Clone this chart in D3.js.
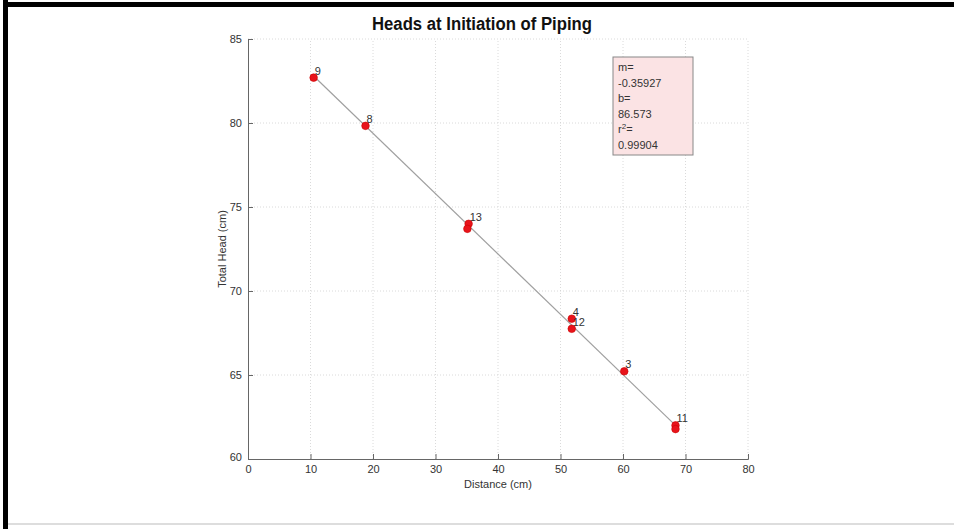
<!DOCTYPE html>
<html>
<head>
<meta charset="utf-8">
<script src="https://cdn.jsdelivr.net/npm/d3@7"></script>
<style>
  body { margin: 0; background: #fff; }
  svg { display: block; }
</style>
</head>
<body>
<div id="chart"></div>
<script>
// Chart size
var width = 954;
var height = 529;

// Data
var distance = [10.5, 18.8, 35.3, 35.1, 51.8, 51.8, 60.2, 68.4, 68.4];
var totalHead = [82.7, 79.83, 74.0, 73.7, 68.35, 67.75, 65.22, 62.0, 61.78];
var pointLabels = ["9", "8", "13", "", "4", "12", "3", "11", ""];
var xTicks = [0, 10, 20, 30, 40, 50, 60, 70, 80];
var yTicks = [60, 65, 70, 75, 80, 85];
var fitSlope = -0.35927;
var fitIntercept = 86.573;
var fitText = ["m=", "-0.35927", "b=", "86.573", "r2=", "0.99904"];

var margin = { left: 248, right: 206, top: 39, bottom: 70 };

var x = d3.scaleLinear().domain([0, 80]).range([margin.left, width - margin.right]);
var y = d3.scaleLinear().domain([60, 85]).range([height - margin.bottom, margin.top]);

var svg = d3.select("#chart")
    .append("svg")
    .attr("width", width)
    .attr("height", height);

// Frame around the figure
svg.append("rect").attr("x", 3).attr("y", 2).attr("width", width - 3).attr("height", 5).attr("fill", "#000");
svg.append("rect").attr("x", 3).attr("y", 0).attr("width", 5).attr("height", height).attr("fill", "#000");
svg.append("rect").attr("x", 8).attr("y", 523).attr("width", width - 8).attr("height", 2).attr("fill", "#ddd");

// Dotted grid
svg.append("g")
    .selectAll("line")
    .data(xTicks.slice(1))
    .enter()
    .append("line")
    .attr("x1", function (d) { return x(d); })
    .attr("x2", function (d) { return x(d); })
    .attr("y1", y(60))
    .attr("y2", y(85))
    .attr("stroke", "#d0d0d0")
    .attr("stroke-width", 0.8)
    .attr("stroke-dasharray", "1,2");

svg.append("g")
    .selectAll("line")
    .data(yTicks.slice(1))
    .enter()
    .append("line")
    .attr("x1", x(0))
    .attr("x2", x(80))
    .attr("y1", function (d) { return y(d); })
    .attr("y2", function (d) { return y(d); })
    .attr("stroke", "#d0d0d0")
    .attr("stroke-width", 0.8)
    .attr("stroke-dasharray", "1,2");

// Axes
var xAxis = svg.append("g")
    .attr("transform", "translate(0," + y(60) + ")")
    .call(d3.axisBottom(x).tickValues(xTicks).tickSize(-5).tickPadding(6));

var yAxis = svg.append("g")
    .attr("transform", "translate(" + x(0) + ",0)")
    .call(d3.axisLeft(y).tickValues(yTicks).tickSize(-5).tickPadding(6));

[xAxis, yAxis].forEach(function (g) {
    g.select(".domain").attr("stroke", "#666");
    g.selectAll(".tick line").attr("stroke", "#666");
    g.selectAll(".tick text")
        .attr("fill", "#333")
        .style("font-family", "Liberation Sans, Arial, sans-serif")
        .style("font-size", "11px");
});
yAxis.selectAll(".tick text").attr("dy", "0.32em");
// first y label sits a bit lower, like the original
yAxis.selectAll(".tick text").filter(function (d) { return d === 60; }).attr("dy", "0.1em");

// Axis titles
svg.append("text")
    .attr("x", x(40))
    .attr("y", y(60) + 29)
    .attr("text-anchor", "middle")
    .style("font-family", "Liberation Sans, Arial, sans-serif")
    .style("font-size", "11px")
    .attr("fill", "#333")
    .text("Distance (cm)");

svg.append("text")
    .attr("transform", "translate(226," + y(72.5) + ") rotate(-90)")
    .attr("text-anchor", "middle")
    .style("font-family", "Liberation Sans, Arial, sans-serif")
    .style("font-size", "11px")
    .attr("fill", "#333")
    .text("Total Head (cm)");

// Chart title (condensed to the original's width)
svg.append("text")
    .attr("x", 482)
    .attr("y", 30)
    .attr("text-anchor", "middle")
    .attr("textLength", 220)
    .attr("lengthAdjust", "spacingAndGlyphs")
    .style("font-family", "Liberation Sans, Arial, sans-serif")
    .style("font-size", "18px")
    .style("font-weight", "bold")
    .attr("fill", "#111")
    .text("Heads at Initiation of Piping");

// Fitted line
var xMin = d3.min(distance), xMax = d3.max(distance);
svg.append("line")
    .attr("x1", x(xMin))
    .attr("y1", y(fitSlope * xMin + fitIntercept))
    .attr("x2", x(xMax))
    .attr("y2", y(fitSlope * xMax + fitIntercept))
    .attr("stroke", "#a0a0a0")
    .attr("stroke-width", 1.2);

// Points
var pts = distance.map(function (d, i) { return { x: d, y: totalHead[i], label: pointLabels[i] }; });

svg.append("g")
    .selectAll("circle")
    .data(pts)
    .enter()
    .append("circle")
    .attr("cx", function (d) { return x(d.x); })
    .attr("cy", function (d) { return y(d.y); })
    .attr("r", 3.8)
    .attr("fill", "#e8141b")
    .attr("stroke", "#c00")
    .attr("stroke-width", 0.6);

svg.append("g")
    .selectAll("text")
    .data(pts.filter(function (d) { return d.label !== ""; }))
    .enter()
    .append("text")
    .attr("x", function (d) { return x(d.x) + 1; })
    .attr("y", function (d) { return y(d.y) - 3; })
    .style("font-family", "Liberation Sans, Arial, sans-serif")
    .style("font-size", "11px")
    .attr("fill", "#333")
    .text(function (d) { return d.label; });

// Fit parameters box
var box = svg.append("g").attr("transform", "translate(613,57)");
box.append("rect")
    .attr("width", 80)
    .attr("height", 98)
    .attr("fill", "#fbe3e4")
    .attr("stroke", "#888")
    .attr("stroke-width", 1);

box.selectAll("text")
    .data(fitText)
    .enter()
    .append("text")
    .attr("x", 5)
    .attr("y", function (d, i) { return 14 + i * 15.6; })
    .style("font-family", "Liberation Sans, Arial, sans-serif")
    .style("font-size", "11px")
    .attr("fill", "#333")
    .each(function (d) {
        var t = d3.select(this);
        if (d === "r2=") {
            t.append("tspan").text("r");
            t.append("tspan").attr("dy", -4).style("font-size", "8px").text("2");
            t.append("tspan").attr("dy", 4).text("=");
        } else {
            t.text(d);
        }
    });
</script>
</body>
</html>
